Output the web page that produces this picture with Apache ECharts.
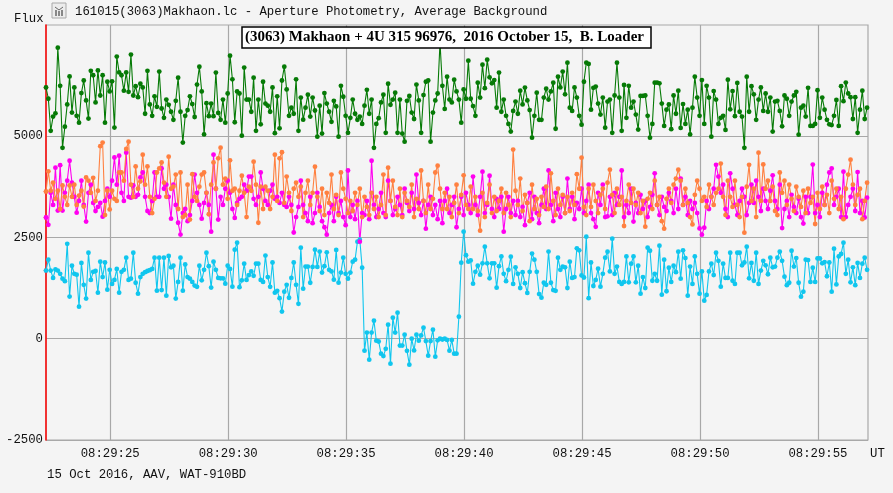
<!DOCTYPE html>
<html>
<head>
<meta charset="utf-8">
<title>Makhaon occultation light curve</title>
<style>
  html, body { margin: 0; padding: 0; background: #f4f4f4; }
  #chart { width: 893px; height: 493px; }
</style>
<script src="https://cdn.jsdelivr.net/npm/echarts@6/dist/echarts.min.js"></script>
</head>
<body>
<div id="chart"></div>
<script>
(function () {
  // 每行 1 秒（0.1 s 一帧），时间从 08:29:22.28 开始
  const T0 = 22.28;
  const STEP = 0.1;
  const MONO = '"Liberation Mono", "DejaVu Sans Mono", monospace';
  const TEXT = '#111111';

  const GREEN = [
    6200,5920,5130,5480,5560,7180,6240,4710,5230,5780,
    6470,5580,6200,5500,5330,6060,6370,5880,5430,6610,
    6500,5830,6620,6000,6500,5330,6340,6100,6350,5210,
    6960,6570,6500,6120,6570,6090,7010,6000,6230,5960,
    6290,6200,5550,6610,5780,5500,5980,5720,6590,5680,
    5450,5900,5770,5600,5400,5870,6440,5600,4840,5500,
    5640,5980,5790,5470,6270,6710,6100,5040,5810,5490,
    5800,5490,6565,5570,5400,5900,5330,6050,6984,6400,
    5340,6100,6050,5010,6690,5900,5900,5600,6440,5130,
    5900,5290,6340,5800,5750,5600,6200,5070,5980,5190,
    6370,6710,6150,5500,5700,5550,6400,5130,5950,5405,
    5700,6020,5480,5950,5630,4985,5750,5060,6060,5800,
    5600,5350,5870,5730,4985,6240,5970,5500,5080,5450,
    5900,5550,5400,5480,5300,5750,6140,5550,5900,4710,
    5300,5440,5830,6020,5080,6290,5770,5900,6070,5080,
    5900,5060,4860,5870,5990,5580,5420,6270,5880,5080,
    6010,6340,6370,4860,5580,5880,6050,7300,6240,5670,
    6466,5900,5830,6390,6100,5900,5330,6150,5920,6860,
    5920,5740,5500,6318,5950,6760,6180,6885,6450,6300,
    6380,5700,6565,5600,5900,5500,5300,5110,5620,5850,
    5550,6120,5780,6195,5880,5640,4960,5500,6070,5400,
    5400,5950,6170,5900,6100,6318,5180,6466,6200,6590,
    6030,6810,5700,5620,6200,5950,5500,5280,6340,6810,
    6780,5650,6190,6220,5800,5530,5950,5207,5850,5900,
    5080,6000,6810,5950,5130,6260,5450,6240,5700,5850,
    5530,5160,5990,5990,6000,5500,4960,5300,6318,6320,
    6300,5800,5250,5650,5780,5170,6000,5550,6120,5200,
    5790,5300,5650,5040,5700,6466,5950,5500,6380,5300,
    6240,5950,4985,6110,5900,5300,5450,5500,5150,6390,
    5660,6110,5490,6310,5600,5480,4710,6466,5600,6230,
    6030,5400,5900,6200,5620,6050,5600,5950,5110,5850,
    5870,5620,5240,6000,5920,5500,5850,6000,6090,5035,
    5700,5750,5480,6190,5250,5250,5300,6130,5450,5950,
    5650,5400,5290,5270,5500,5890,5250,6230,5860,6320,
    6050,5960,5420,5960,5080,5650,6120,5420,5700
  ];

  const CYAN = [
    1680,1950,1680,1500,1710,1680,1600,1480,1420,2340,
    1040,1800,1600,1580,790,1870,1330,990,2120,1450,
    1650,1670,1135,1900,1520,1880,1210,1700,1350,1450,
    1720,1135,1650,1700,2000,1450,1480,2120,1380,1110,
    1520,1600,1640,1670,1690,1720,2000,1185,2000,1200,
    2000,1060,2040,1760,1800,990,1400,2000,1185,1830,
    1520,1480,1400,1310,1280,1800,1440,1700,2120,1790,
    1260,1900,1700,1500,1490,1490,1357,1800,1720,1283,
    2196,2370,1270,1440,1850,1450,1570,1660,1550,1850,
    1850,1450,1400,2050,1520,1280,1880,1135,1180,1000,
    670,1160,1330,1010,1500,1880,1330,860,2245,1234,
    1780,1780,1380,1770,2196,1770,2150,1630,1790,2130,
    1700,1660,1456,2190,1382,1630,2000,1600,1480,1630,
    1900,1950,2394,2443,1752,-296,150,-518,150,444,
    -50,-70,-370,-430,-250,345,-617,518,150,642,
    -170,-170,100,-300,-641,0,-290,100,-50,80,
    271,-60,-420,-60,222,-444,-40,0,-20,0,
    -30,-296,-30,-370,-370,543,1875,2640,2060,1900,
    1930,1357,1650,1800,1580,1860,2270,1860,1490,1860,
    1860,1258,1790,2030,1600,1420,1700,2024,1350,1760,
    1600,1250,1640,1370,1130,1650,2100,1950,1650,1100,
    1012,1380,1330,2150,1380,1200,1180,2000,1700,1780,
    1760,1250,1900,1500,1520,2230,2180,1560,1510,2517,
    1000,1880,1300,1450,1727,1283,1600,2000,2147,1660,
    2468,1600,1780,1400,1350,1400,2030,1390,1850,2030,
    1390,1800,1110,1520,1250,2245,2170,1430,1600,1430,
    2295,1086,1950,1170,1750,1400,1800,1640,2147,1480,
    2180,1990,1061,1780,1350,2030,1600,1110,1660,938,
    1080,1660,1850,1570,2120,1920,1283,1850,1500,1500,
    2120,1430,1350,2120,2120,1810,1880,2270,1490,1870,
    1430,2120,1350,1680,1920,1810,1590,2000,1760,1780,
    2000,2147,1920,1530,1320,1380,2170,1780,1990,1380,
    1037,1160,1950,1940,1400,1750,1400,1980,1980,1860,
    1890,1540,1880,1160,2221,1340,2030,2090,2370,1600,
    1950,1390,1760,1320,1870,1500,1850,2000,1700
  ];

  const MAGENTA = [
    2990,2810,3600,3300,4220,3160,4280,3160,3600,3900,
    4390,3850,3500,3110,3400,3900,3300,2890,3600,3800,
    3350,3150,3250,3350,3010,3400,3700,3500,3900,4470,
    3800,4515,3600,3400,4590,3500,3480,3780,3500,3550,
    3980,4100,3500,3150,3100,3400,4100,3500,3500,4200,
    3700,3800,3500,2960,3800,3300,2860,2570,3100,3200,
    2900,3050,3400,4050,3600,3300,2960,3350,3600,3300,
    2640,4540,3700,2940,3500,3300,3700,3900,3600,3200,
    2980,3350,3450,3500,3800,3650,4000,4000,3450,3300,
    3500,4100,3700,3400,3300,3650,3800,3450,3500,3350,
    3600,3300,3250,3500,3300,2620,3000,3250,3900,3300,
    3100,2900,3500,2850,3100,3600,3250,2900,2750,2567,
    3100,3300,2900,3500,3100,3400,3000,2800,4150,3000,
    3300,2950,3400,2394,3100,3050,3400,2950,4390,3300,
    3000,3200,3600,3100,3000,3900,3400,3050,3200,3500,
    3300,3050,3700,3350,3150,3600,3200,4050,3350,3050,
    3400,2715,3300,3500,3050,3300,2950,3400,2850,3400,
    3700,3100,3300,3500,2750,3200,3500,3050,3600,3300,
    3100,4000,3300,3050,3500,4120,3100,3300,4020,3200,
    3000,3450,3200,3500,2640,3200,3500,3100,3400,3050,
    3400,3000,3250,2800,3350,3600,2950,3500,3100,2850,
    3300,3700,3200,4150,3300,2900,3600,3200,3000,3500,
    3100,3950,3200,3500,2950,3350,3200,3700,3100,3400,
    3800,3100,2950,2760,3600,3300,3800,3000,3020,3500,
    3050,3600,3300,3500,4150,3000,3300,3100,3700,2890,
    3350,3100,3550,3200,3400,3000,3250,3550,4080,3300,
    3050,3500,3250,3150,3600,3400,3100,3700,3200,3950,
    3300,3500,3050,3400,3200,3350,3100,2720,2567,2740,
    3400,3200,3500,3700,4290,4000,3600,3800,3200,3000,
    4080,3700,3300,3050,3400,3700,3500,3050,3350,3800,
    3350,3900,3500,3150,3700,3400,3200,3650,4030,3400,
    3200,3800,2730,3200,3400,3000,3550,3250,3100,3450,
    3000,2840,3500,3100,3500,4295,3100,3300,3000,3600,
    3300,3800,4100,4200,3300,3500,3700,3000,4120,3000,
    3300,3500,3700,3150,4110,3100,3400,2990,3480
  ];

  const ORANGE = [
    3630,4130,3650,3850,3450,3650,3200,3780,3500,3300,
    3780,3500,3800,3300,3530,3650,3260,3980,3900,3600,
    3970,3400,3650,4750,4840,3050,3650,3190,3650,3450,
    3400,4100,4100,3900,4680,4860,3800,3500,4250,3700,
    3880,4540,3800,4250,3500,3100,3450,4100,4200,4350,
    3850,3500,4490,3700,3750,4050,3200,4100,3000,3050,
    3800,2940,4060,3500,3400,3750,4050,4100,3600,3070,
    3800,4350,3700,4450,4714,3800,3950,3450,4400,3650,
    3700,3300,3650,4020,3600,3000,3750,3650,4368,3800,
    2860,3750,3200,3750,3650,3200,3500,4540,3400,4450,
    4600,3350,4000,3600,3150,3700,3850,3500,3750,3000,
    3600,3900,3300,3600,4245,3500,3150,3700,3050,3600,
    3350,4050,3200,3550,3050,4100,3700,3450,3100,3400,
    3150,3600,3300,3700,3000,3500,3250,3050,3600,3200,
    3500,3000,3300,4050,3050,4220,3400,3900,3250,3050,
    3700,3000,3600,3400,3250,3800,3000,3450,3200,4150,
    3400,3100,3800,3200,3450,4100,4270,3700,3200,3600,
    3200,3500,3000,3350,3800,3100,3550,4030,3300,3200,
    3750,3200,3500,3150,2665,3600,3000,3350,3800,3100,
    3500,3150,3400,3700,3100,3600,3300,3000,4665,3650,
    3300,3950,3150,3550,3350,2900,3800,3200,3450,3050,
    3500,3250,3750,3200,4080,3400,3050,3700,3300,3550,
    3100,3500,3150,3600,3300,4060,3700,4467,3250,3050,
    3700,3250,3800,3400,3100,3550,3700,3200,3850,4170,
    3550,3100,3700,3300,3500,2780,3400,3800,3350,3700,
    3300,3600,3100,3400,2764,3450,3600,3200,3900,3300,
    3500,2900,2715,3450,3700,3350,3800,3950,4170,3900,
    3300,3700,3350,3000,2820,3550,3900,3700,3400,3500,
    3250,3800,3500,3300,3600,3700,4320,3500,3050,3900,
    3500,3250,3900,3300,3000,3500,2615,3750,4290,3400,
    3700,3000,4590,3400,4300,3700,3900,3400,3750,3150,
    3050,4100,3600,3900,3300,3800,3450,3150,3750,3500,
    3250,3650,3100,3700,3350,3500,2830,3600,3200,3750,
    3300,3550,3100,3900,3450,3700,3200,3500,2950,3700,
    4050,4418,3800,3300,3550,3700,2950,3400,3850
  ];

  function withTime(values) {
    return values.map((v, i) => [T0 + i * STEP, v]);
  }

  function lightCurve(name, values, color) {
    return {
      name: name,
      type: 'line',
      data: withTime(values),
      symbol: 'circle',
      symbolSize: 4.8,
      clip: false,
      lineStyle: { color: color, width: 1.1 },
      itemStyle: { color: color },
      emphasis: { disabled: true }
    };
  }

  function label(text, x, y) {
    return {
      type: 'text',
      left: x,
      top: y,
      silent: true,
      style: { text: text, font: '12.3px ' + MONO, fill: TEXT }
    };
  }

  function clock(sec) {
    return '08:29:' + String(sec).padStart(2, '0');
  }

  const chart = echarts.init(document.getElementById('chart'));
  const timeTicks = [25, 30, 35, 40, 45, 50, 55];
  const fluxTicks = [-2500, 0, 2500, 5000];

  chart.setOption({
    animation: false,
    backgroundColor: '#f4f4f4',
    title: {
      text: '(3063) Makhaon + 4U 315 96976,  2016 October 15,  B. Loader',
      left: 242,
      top: 27,
      padding: [3, 7, 3, 3],
      backgroundColor: '#ffffff',
      borderColor: '#000000',
      borderWidth: 1.5,
      textStyle: { fontFamily: '"Liberation Serif", serif', fontSize: 15, fontWeight: 'bold', color: '#000000' }
    },
    grid: {
      left: 46, right: 25, top: 25, bottom: 53,
      outerBoundsMode: 'none',
      show: true, borderColor: '#a8a8a8', borderWidth: 1.2
    },
    xAxis: {
      type: 'value',
      min: T0,
      max: T0 + 34.84,
      axisLine: { show: false },
      axisTick: { show: false, customValues: timeTicks },
      splitLine: { show: true, lineStyle: { color: '#a8a8a8', width: 1.2 } },
      axisLabel: {
        customValues: timeTicks,
        formatter: v => clock(v),
        color: TEXT,
        margin: 8,
        fontFamily: MONO,
        fontSize: 12.3
      }
    },
    yAxis: {
      type: 'value',
      min: -2500,
      max: 7740,
      axisLine: { show: true, lineStyle: { color: '#ff0000', width: 1.5 } },
      axisTick: { show: false, customValues: fluxTicks },
      splitLine: { show: true, lineStyle: { color: '#a8a8a8', width: 1.2 } },
      axisLabel: {
        customValues: fluxTicks,
        formatter: v => String(v),
        color: TEXT,
        margin: 3,
        fontFamily: MONO,
        fontSize: 12.3
      }
    },
    series: [
      lightCurve('Makhaon', GREEN, '#067a06'),
      lightCurve('Comparison 1', CYAN, '#10c6ee'),
      lightCurve('Comparison 2', MAGENTA, '#ff00f0'),
      lightCurve('Comparison 3', ORANGE, '#ff8040'),
      {
        // 左轴上的红点标出每条曲线的起点
        name: 'Start',
        type: 'scatter',
        symbol: 'circle',
        symbolSize: 4.5,
        clip: false,
        itemStyle: { color: '#ff0000' },
        data: [GREEN[0], ORANGE[0], MAGENTA[0], CYAN[0]].map(v => [T0, v])
      }
    ],
    graphic: [
      label('Flux', 14, 13),
      label('161015(3063)Makhaon.lc - Aperture Photometry, Average Background', 75, 6),
      label('UT', 870, 448),
      label('15 Oct 2016, AAV, WAT-910BD', 47, 469),
      { type: 'rect', silent: true, shape: { x: 52, y: 3, width: 14, height: 15 }, style: { fill: '#ececec', stroke: '#a8a8a8', lineWidth: 1 } },
      { type: 'polyline', silent: true, shape: { points: [[55, 7], [59, 10], [63, 7]] }, style: { fill: 'none', stroke: '#666666', lineWidth: 1 } },
      { type: 'line', silent: true, shape: { x1: 56, y1: 10, x2: 56, y2: 16 }, style: { stroke: '#666666', lineWidth: 1.5 } },
      { type: 'line', silent: true, shape: { x1: 59, y1: 11, x2: 59, y2: 16 }, style: { stroke: '#666666', lineWidth: 1.5 } },
      { type: 'line', silent: true, shape: { x1: 62, y1: 10, x2: 62, y2: 16 }, style: { stroke: '#666666', lineWidth: 1.5 } }
    ]
  });

  window.addEventListener('resize', () => chart.resize());
})();
</script>
</body>
</html>
